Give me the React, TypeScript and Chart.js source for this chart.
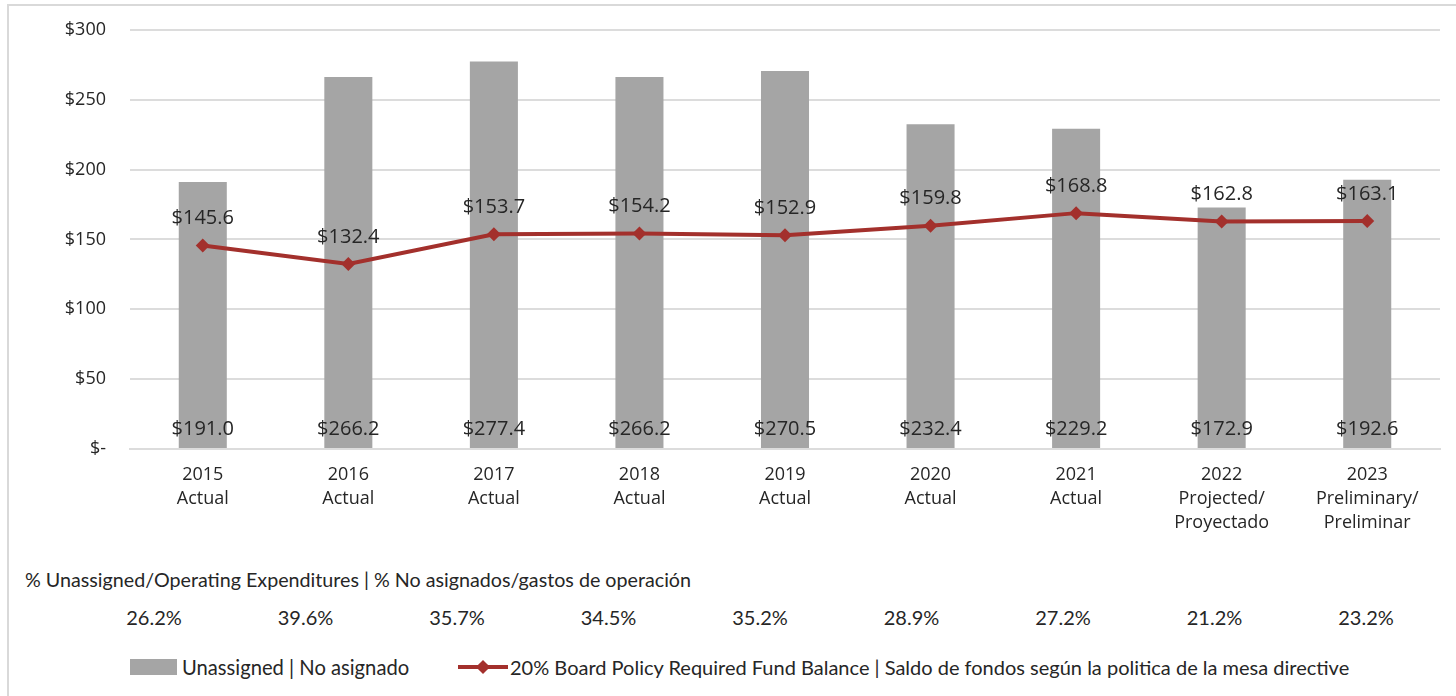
import React, { useEffect, useRef } from "react";
import { Chart, registerables } from "chart.js";

Chart.register(...registerables);

const categories: string[][] = [
  ["2015", "Actual"],
  ["2016", "Actual"],
  ["2017", "Actual"],
  ["2018", "Actual"],
  ["2019", "Actual"],
  ["2020", "Actual"],
  ["2021", "Actual"],
  ["2022", "Projected/", "Proyectado"],
  ["2023", "Preliminary/", "Preliminar"],
];
const unassigned = [191.0, 266.2, 277.4, 266.2, 270.5, 232.4, 229.2, 172.9, 192.6];
const policyRequired = [145.6, 132.4, 153.7, 154.2, 152.9, 159.8, 168.8, 162.8, 163.1];
const pctLabels = ["26.2%", "39.6%", "35.7%", "34.5%", "35.2%", "28.9%", "27.2%", "21.2%", "23.2%"];
const pctHeader = "% Unassigned/Operating Expenditures | % No asignados/gastos de operación";
const barLegend = "Unassigned | No asignado";
const lineLegend = "20% Board Policy Required Fund Balance | Saldo de fondos según la politica de la mesa directive";

const BAR_COLOR = "#A5A5A5";
const LINE_COLOR = "#A3302C";
const GRID = "#dcdcdc";
const TEXT = "#262626";
const W = 1456;
const CH = 550;
const SHIFT = 5;
const AXIS_Y = 449 + SHIFT;

const fmt = (v: number) => "$" + v.toFixed(1);

const labelsPlugin = {
  id: "valueLabels",
  afterDatasetsDraw(chart: any) {
    const ctx = chart.ctx;
    ctx.save();
    ctx.font = '20px "Open Sans", sans-serif';
    ctx.fillStyle = TEXT;
    ctx.textAlign = "center";
    ctx.textBaseline = "middle";
    const barMeta = chart.getDatasetMeta(0);
    barMeta.data.forEach((el: any, i: number) => {
      ctx.fillText(fmt(unassigned[i]), el.x, el.base - 19);
    });
    const lineMeta = chart.getDatasetMeta(1);
    lineMeta.data.forEach((el: any, i: number) => {
      ctx.fillText(fmt(policyRequired[i]), el.x, el.y - 27);
    });
    ctx.restore();
  },
};

function ChartCanvas() {
  const ref = useRef<HTMLCanvasElement | null>(null);
  useEffect(() => {
    if (!ref.current) return;
    const chart = new Chart(ref.current, {
      type: "bar",
      data: {
        labels: categories as any,
        datasets: [
          {
            type: "bar",
            label: barLegend,
            data: unassigned,
            backgroundColor: BAR_COLOR,
            barPercentage: 0.33,
            categoryPercentage: 1,
            order: 2,
          } as any,
          {
            type: "line",
            label: lineLegend,
            data: policyRequired,
            borderColor: LINE_COLOR,
            backgroundColor: LINE_COLOR,
            borderWidth: 4,
            pointStyle: "rectRot",
            pointRadius: 7,
            pointBorderWidth: 0,
            tension: 0,
            order: 1,
          } as any,
        ],
      },
      options: {
        responsive: false,
        animation: false,
        layout: { padding: { top: 24, right: 16, left: 0, bottom: 0 } },
        plugins: {
          legend: { display: false },
          tooltip: { enabled: false },
          title: { display: false },
        },
        scales: {
          x: {
            offset: true,
            grid: { display: false, drawTicks: false },
            border: { display: true, color: GRID, width: 2 },
            ticks: {
              color: TEXT,
              padding: 14,
              maxRotation: 0,
              autoSkip: false,
              font: { family: '"Open Sans", sans-serif', size: 18, lineHeight: 1.33 },
            },
            afterFit: (s: any) => {
              s.height = CH - AXIS_Y;
            },
          },
          y: {
            min: 0,
            max: 300,
            ticks: {
              stepSize: 50,
              color: TEXT,
              padding: 24,
              font: { family: '"Open Sans", sans-serif', size: 18 },
              callback: (v: any) => (Number(v) === 0 ? "$-" : "$" + v),
            },
            grid: { color: GRID, lineWidth: 2, drawTicks: false },
            border: { display: false },
            afterFit: (s: any) => {
              s.width = 130;
            },
          },
        },
      },
      plugins: [labelsPlugin],
    });
    return () => chart.destroy();
  }, []);
  return (
    <canvas
      ref={ref}
      width={W}
      height={CH}
      style={{ position: "absolute", left: 0, top: -SHIFT, width: W, height: CH }}
    />
  );
}

export default function App() {
  const calibri = 'Lato, "Open Sans", sans-serif';
  return (
    <div
      style={{
        position: "absolute",
        left: 0,
        top: 0,
        width: W,
        height: 696,
        background: "#fff",
        overflow: "hidden",
        fontFamily: calibri,
        color: TEXT,
      }}
    >
      <div
        style={{
          position: "absolute",
          left: 7,
          top: 4,
          right: 0,
          bottom: 0,
          borderLeft: "2px solid #d9d9d9",
          borderTop: "2px solid #d9d9d9",
        }}
      />
      <ChartCanvas />
      <div
        style={{
          position: "absolute",
          left: 25,
          top: 568,
          fontSize: 19.7,
          lineHeight: "24px",
          whiteSpace: "nowrap",
        }}
      >
        {pctHeader}
      </div>
      {pctLabels.map((p, i) => (
        <div
          key={p + i}
          style={{
            position: "absolute",
            left: 154 + i * 151.5 - 50,
            width: 100,
            top: 605,
            textAlign: "center",
            fontSize: 20,
            lineHeight: "24px",
          }}
        >
          {p}
        </div>
      ))}
      <div style={{ position: "absolute", left: 130, top: 659, width: 47, height: 16, background: BAR_COLOR }} />
      <div
        style={{
          position: "absolute",
          left: 182,
          top: 655,
          fontSize: 20.2,
          lineHeight: "24px",
          whiteSpace: "nowrap",
        }}
      >
        {barLegend}
      </div>
      <div style={{ position: "absolute", left: 458, top: 665, width: 50, height: 4, background: LINE_COLOR }} />
      <div
        style={{
          position: "absolute",
          left: 478,
          top: 662,
          width: 10,
          height: 10,
          background: LINE_COLOR,
          transform: "rotate(45deg)",
        }}
      />
      <div
        style={{
          position: "absolute",
          left: 510,
          top: 655,
          fontSize: 20,
          lineHeight: "24px",
          whiteSpace: "nowrap",
        }}
      >
        {lineLegend}
      </div>
    </div>
  );
}
